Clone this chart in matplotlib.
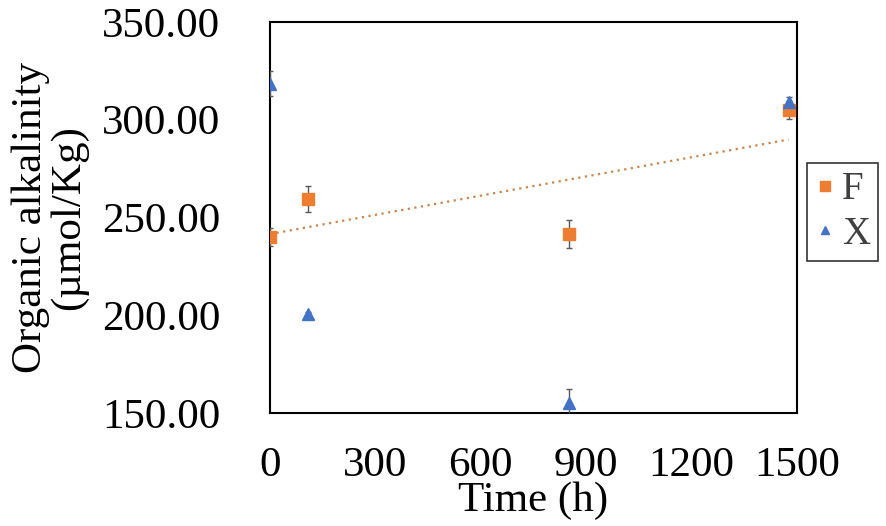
import numpy as np
import matplotlib
matplotlib.use("Agg")
import matplotlib.pyplot as plt

plt.rcParams['font.family'] = ['Liberation Serif', 'DejaVu Serif']

# time (h) and organic alkalinity (umol/Kg)
time_h = [0, 108, 852, 1476]
f_vals = [240.0, 259.5, 241.4, 305.0]
f_err = [4.4, 6.8, 7.2, 4.7]
x_vals = [318.5, 200.8, 155.3, 309.2]
x_err = [6.3, 1.0, 6.9, 2.2]

orange = '#ED7D31'
blue = '#4472C4'
err_col = '#595959'

fig = plt.figure(figsize=(8.86, 5.26), dpi=100)
ax = fig.add_axes([270 / 886, 1 - 413 / 526, 527 / 886, 391 / 526])

ax.errorbar(time_h, f_vals, yerr=f_err, fmt='s', color=orange, ms=8.5,
            ecolor=err_col, elinewidth=1, capsize=2.5, capthick=1, label='F', zorder=3)
ax.errorbar(time_h, x_vals, yerr=x_err, fmt='^', color=blue, ms=8,
            ecolor=err_col, elinewidth=1, capsize=2.5, capthick=1, label='X', zorder=3)

# linear trendline for F
slope, icpt = np.polyfit(time_h, f_vals, 1)
tx = np.array([time_h[0], time_h[-1]])
ax.plot(tx, slope * tx + icpt, linestyle=(0, (1, 2)), color='#C8864E', lw=1.6, zorder=2)

ax.set_xlim(0, 1500)
ax.set_ylim(150, 350)
ax.set_xticks(np.arange(0, 1501, 300))
ax.set_yticks(np.arange(150, 351, 50))
ax.yaxis.set_major_formatter(matplotlib.ticker.FormatStrFormatter('%.2f'))
ax.tick_params(length=0, labelsize=31, colors='black')
ax.tick_params(axis='y', pad=36)
ax.tick_params(axis='x', pad=24)
for s in ax.spines.values():
    s.set_linewidth(1.5)
    s.set_color('black')

ax.set_xlabel('Time (h)', fontsize=31)
ax.xaxis.set_label_coords(0.5, -0.175)
ax.set_ylabel('Organic alkalinity\n(\u00b5mol/Kg)', fontsize=31, linespacing=1.0)
ax.yaxis.set_label_coords(-0.345, 0.5)

handles, labels = ax.get_legend_handles_labels()
handles = [h[0] for h in handles]
leg = fig.legend(handles, labels, loc='center left',
                 bbox_to_anchor=(807 / 886, 1 - 212 / 526), fontsize=28,
                 frameon=True, fancybox=False, handletextpad=0.15,
                 handlelength=0.55, borderpad=0.2, labelspacing=0.2,
                 borderaxespad=0, markerscale=0.8)
leg.get_frame().set_edgecolor('black')
leg.get_frame().set_linewidth(1.2)
for t in leg.get_texts():
    t.set_color('#404040')

fig.savefig('out.png', dpi=100)
